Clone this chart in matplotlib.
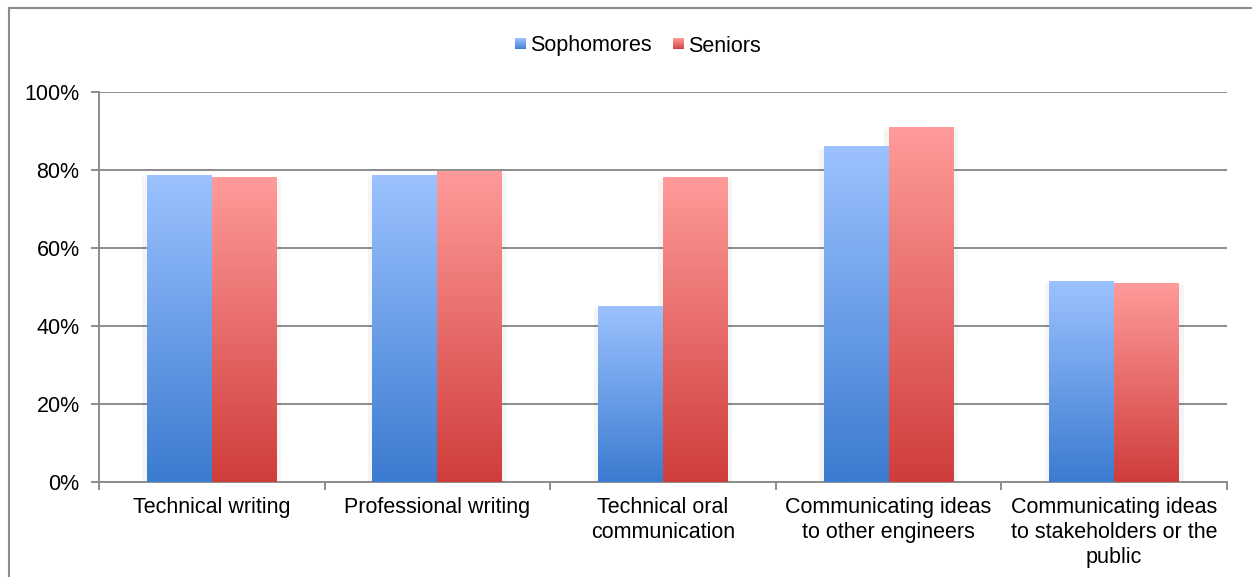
import numpy as np
import matplotlib
matplotlib.use("Agg")
import matplotlib.pyplot as plt
from matplotlib.patches import Rectangle
from matplotlib.lines import Line2D
from matplotlib.legend_handler import HandlerBase
from matplotlib.colors import LinearSegmentedColormap

categories = ["Technical writing", "Professional writing", "Technical oral\ncommunication",
              "Communicating ideas\nto other engineers",
              "Communicating ideas\nto stakeholders or the\npublic"]
sophomores = [78.5, 78.5, 44.9, 85.9, 51.3]
seniors = [78.2, 79.7, 78.0, 90.8, 51.0]
series_names = ["Sophomores", "Seniors"]
yticks = [0, 20, 40, 60, 80, 100]

plt.rcParams['font.family'] = ['Liberation Sans', 'DejaVu Sans']
FS = 15.5

blue_cmap = LinearSegmentedColormap.from_list("b", ["#3B7BD0", "#9CC2FF"])
red_cmap = LinearSegmentedColormap.from_list("r", ["#CF3D3B", "#FF9B99"])

fig = plt.figure(figsize=(12.52, 5.77), dpi=100)
ax = fig.add_axes([99/1252, 1-482/577, (1227-99)/1252, (482-92)/577])

grad = np.linspace(0, 1, 256).reshape(-1, 1)
w = 0.288
x = np.arange(len(categories))

def grad_bar(ax, xc, h, cmap):
    x0, x1 = xc - w/2, xc + w/2
    # soft shadow
    ax.add_patch(Rectangle((x0 - 0.02, 0), (x1 - x0) + 0.04, h - 0.4, facecolor="#000000",
                           alpha=0.04, edgecolor="none", zorder=2))
    ax.imshow(grad, extent=(x0, x1, 0, h), origin="lower", cmap=cmap, aspect="auto",
              zorder=3, interpolation="bilinear")

for i in range(len(categories)):
    grad_bar(ax, x[i] - w/2, sophomores[i], blue_cmap)
    grad_bar(ax, x[i] + w/2, seniors[i], red_cmap)

ax.set_xlim(-0.5, len(categories) - 0.5)
ax.set_ylim(0, 100)
ax.set_yticks(yticks)
ax.set_yticklabels([f"{v}%" for v in yticks], fontsize=FS)
ax.yaxis.grid(True, color="#8C8C8C", linewidth=1.4, zorder=1)
ax.set_axisbelow(True)
ax.set_xticks(x)
ax.set_xticklabels(categories, fontsize=FS, linespacing=1.25)
ax.set_xticks(np.arange(-0.5, len(categories), 1.0), minor=True)
ax.tick_params(axis="x", which="major", length=0, pad=11)
ax.tick_params(axis="x", which="minor", length=6, color="#8C8C8C", width=1.4, direction="out")
ax.tick_params(axis="y", length=6, color="#8C8C8C", width=1.4, direction="out", pad=8)
for s in ["top", "right"]:
    ax.spines[s].set_visible(False)
for s in ["left", "bottom"]:
    ax.spines[s].set_color("#8C8C8C")
    ax.spines[s].set_linewidth(1.4)

class GradHandler(HandlerBase):
    def __init__(self, cmap):
        super().__init__()
        self.cmap = cmap
    def create_artists(self, legend, orig_handle, xdescent, ydescent, width, height, fontsize, trans):
        size = min(width, height) * 0.72
        x0 = -xdescent + width - size
        y0 = -ydescent + (height - size) / 2
        arts = []
        n = 12
        for k in range(n):
            c = self.cmap((k + 0.5) / n)
            arts.append(Rectangle((x0, y0 + size * k / n), size, size / n + 0.05,
                                  facecolor=c, edgecolor="none", transform=trans))
        return arts

hb = Rectangle((0, 0), 1, 1)
hr = Rectangle((0, 0), 1, 1)
leg = fig.legend([hb, hr], series_names, loc="center", bbox_to_anchor=(636/1252, 1-46/577),
                 ncol=2, frameon=False, fontsize=FS, handlelength=0.7, handletextpad=0.2,
                 columnspacing=0.8,
                 handler_map={hb: GradHandler(blue_cmap), hr: GradHandler(red_cmap)})

# outer frame (left and top edges visible)
fig.add_artist(Line2D([8.5/1252, 8.5/1252], [0, 1-8/577], transform=fig.transFigure,
                      color="#8C8C8C", linewidth=1.5))
fig.add_artist(Line2D([8.5/1252, 1], [1-8/577, 1-8/577], transform=fig.transFigure,
                      color="#8C8C8C", linewidth=1.5))

fig.savefig("out.png", dpi=100)
